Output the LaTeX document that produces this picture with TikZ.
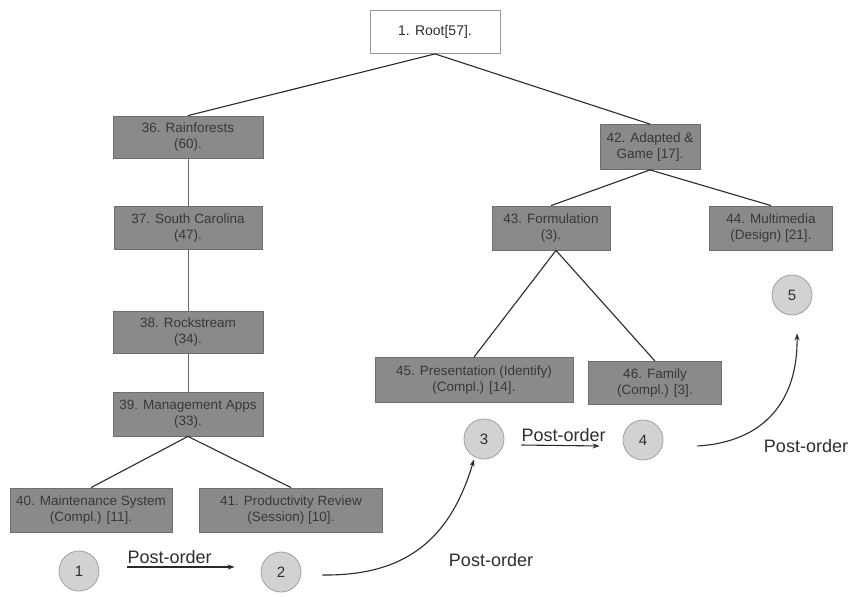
\documentclass[tikz,border=0pt]{standalone}
\usepackage{fontspec}
\setmainfont{Liberation Sans}
\usetikzlibrary{arrows.meta}
\definecolor{boxfill}{HTML}{8A8A8A}
\definecolor{boxedge}{HTML}{6E6E6E}
\definecolor{boxtext}{HTML}{383838}
\definecolor{rootedge}{HTML}{9A9A9A}
\definecolor{dotfill}{HTML}{D2D2D2}
\definecolor{dotedge}{HTML}{A0A0A0}
\definecolor{inktext}{HTML}{2E2E2E}
\definecolor{linkcol}{HTML}{2A2A2A}
\begin{document}
\begin{tikzpicture}[x=1pt,y=-1pt,
  catbox/.style={draw=boxedge, fill=boxfill, text=boxtext, align=center,
    inner sep=1pt, line width=0.8pt, font=\fontsize{13.5}{15.5}\selectfont},
  rootbox/.style={draw=rootedge, fill=white, text=inktext, align=center,
    inner sep=1pt, line width=0.8pt, font=\fontsize{14}{16}\selectfont},
  stepdot/.style={circle, draw=dotedge, fill=dotfill, minimum size=40pt,
    inner sep=0pt, line width=0.8pt, text=inktext, font=\fontsize{15}{15}\selectfont},
  link/.style={draw=linkcol, line width=1.1pt},
  thinlink/.style={draw=linkcol!70, line width=0.7pt},
  order/.style={draw=linkcol, line width=1.1pt, -{Stealth[length=7pt,width=5pt]}},
  orderlabel/.style={text=inktext, inner sep=0pt, font=\fontsize{18}{20}\selectfont}
]
\useasboundingbox (0,0) rectangle (857,597);

% category tree
\node[rootbox, minimum width=130, minimum height=43] (n1) at (435,32) {1. Root[57].};
\node[catbox, minimum width=150, minimum height=42] (n36) at (188,137) {36. Rainforests\\(60).};
\node[catbox, minimum width=148, minimum height=43] (n37) at (188,228) {37. South Carolina\\(47).};
\node[catbox, minimum width=150, minimum height=42] (n38) at (188,332) {38. Rockstream\\(34).};
\node[catbox, minimum width=150, minimum height=44] (n39) at (188,414) {39. Management Apps\\(33).};
\node[catbox, minimum width=162, minimum height=44] (n40) at (91,510) {40. Maintenance System\\(Compl.) [11].};
\node[catbox, minimum width=183, minimum height=44] (n41) at (291,510) {41. Productivity Review\\(Session) [10].};
\node[catbox, minimum width=100, minimum height=45] (n42) at (650,147) {42. Adapted \&\\Game [17].};
\node[catbox, minimum width=118, minimum height=44] (n43) at (551,228) {43. Formulation\\(3).};
\node[catbox, minimum width=123, minimum height=44] (n44) at (771,228) {44. Multimedia\\(Design) [21].};
\node[catbox, minimum width=198, minimum height=45] (n45) at (474,380) {45. Presentation (Identify)\\(Compl.) [14].};
\node[catbox, minimum width=133, minimum height=43] (n46) at (655,383) {46. Family\\(Compl.) [3].};

\draw[link] (n1.south) -- (n36.north);
\draw[link] (n1.south) -- (n42.north);
\draw[thinlink] (n36) -- (n37);
\draw[thinlink] (n37) -- (n38);
\draw[thinlink] (n38) -- (n39);
\draw[link] (n39.south) -- (n40.north);
\draw[link] (n39.south) -- (n41.north);
\draw[link] (n42.south) -- (n43.north);
\draw[link] (n42.south) -- (n44.north);
\draw[link] ([xshift=5pt]n43.south) -- (n45.north);
\draw[link] ([xshift=5pt]n43.south) -- (n46.north);

% visiting order
\node[stepdot] (s1) at (79,571) {1};
\node[stepdot] (s2) at (281,572) {2};
\node[stepdot] (s3) at (484,439) {3};
\node[stepdot] (s4) at (643,440) {4};
\node[stepdot] (s5) at (792,295) {5};

\coordinate (a1) at ([xshift=28pt,yshift=4pt]s1.east);
\coordinate (b1) at ([xshift=-26pt,yshift=5pt]s2.west);
\draw[order] (a1) -- (b1);
\node[orderlabel, anchor=south west] (l1) at ([yshift=3pt]a1) {Post-order};

\coordinate (a2) at ([xshift=21pt,yshift=-3pt]s2.east);
\coordinate (b2) at ([xshift=-10pt]s3.south);
\draw[order] (a2) .. controls (405,576) and (450,540) .. (b2);
\node[orderlabel] (l2) at (491,560) {Post-order};

\coordinate (a3) at ([xshift=17pt,yshift=-6pt]s3.east);
\coordinate (b3) at ([xshift=-23pt,yshift=-6pt]s4.west);
\draw[order] (a3) -- (b3);
\node[orderlabel, anchor=south west] (l3) at ([yshift=3pt]a3) {Post-order};

\coordinate (a4) at ([xshift=34pt,yshift=-6pt]s4.east);
\coordinate (b4) at ([xshift=5pt,yshift=-18pt]s5.south);
\draw[order] (a4) .. controls (765,442) and (798,400) .. (b4);
\node[orderlabel] (l4) at (806,446) {Post-order};
\end{tikzpicture}
\end{document}
